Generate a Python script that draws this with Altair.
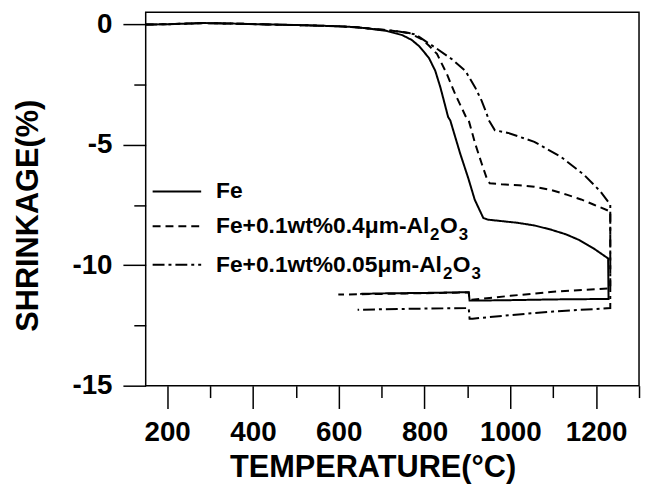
import altair as alt
import pandas as pd

# ---------------- data ----------------
series_names = ["Fe", "Fe+0.1wt%0.4μm-Al2O3", "Fe+0.1wt%0.05μm-Al2O3"]

# common low-temperature part (all three samples overlap)
common_T = [150, 200, 250, 286, 350, 440, 520, 594, 640, 671]
common_S = [-0.01, 0.0, 0.03, 0.05, 0.03, -0.01, -0.04, -0.08, -0.12, -0.18]

# Fe : heating then cooling
fe_heat_T = [710, 748, 770, 787, 810, 825, 837, 847, 855, 860, 883, 902, 917, 937, 948, 980,
             1017, 1056, 1094, 1130, 1160, 1194, 1228]
fe_heat_S = [-0.27, -0.45, -0.65, -0.9, -1.39, -1.93, -2.62, -3.3, -3.85, -3.99, -5.36, -6.39,
             -7.28, -8.04, -8.11, -8.17, -8.24, -8.35, -8.52, -8.72, -8.95, -9.3, -9.72]
fe_cool_T = [1229, 1100, 1000, 912, 905, 903, 800, 700, 650]
fe_cool_S = [-11.40, -11.42, -11.45, -11.47, -11.47, -11.12, -11.15, -11.17, -11.19]

# Fe + 0.1wt% 0.4 um Al2O3
a4_heat_T = [710, 740, 764, 794, 810, 829, 852, 871, 898, 903, 918, 933, 945, 952, 979,
             1020, 1056, 1095, 1133, 1165, 1195, 1233]
a4_heat_S = [-0.24, -0.3, -0.36, -0.63, -0.88, -1.23, -2.06, -2.88, -3.9, -3.99, -4.95, -5.77,
             -6.39, -6.6, -6.64, -6.68, -6.74, -6.88, -7.08, -7.27, -7.49, -7.77]
a4_cool_T = [1233, 1100, 1000, 910, 905, 903, 800, 700, 599]
a4_cool_S = [-10.96, -11.1, -11.27, -11.43, -11.43, -11.13, -11.16, -11.19, -11.22]

# Fe + 0.1wt% 0.05 um Al2O3
a05_heat_T = [710, 740, 779, 802, 825, 864, 895, 918, 933, 945, 950, 952, 964, 995, 1056,
              1118, 1172, 1210, 1233]
a05_heat_S = [-0.24, -0.3, -0.42, -0.7, -0.97, -1.45, -1.93, -2.62, -3.17, -3.72, -3.99,
              -4.05, -4.4, -4.51, -4.88, -5.5, -6.25, -6.94, -7.49]
a05_cool_T = [1233, 1100, 1000, 912, 905, 903, 800, 700, 644]
a05_cool_S = [-11.78, -11.92, -12.07, -12.22, -12.22, -11.78, -11.8, -11.83, -11.85]

x_major = [200, 400, 600, 800, 1000, 1200]
x_minor = [300, 500, 700, 900, 1100, 1300]
y_major = [0, -5, -10, -15]
y_minor = [-2.5, -7.5, -12.5]
x_domain = [150, 1300]
y_domain = [-15, 0.5]

# ---------------- build table ----------------
rows = []
def add(name, Ts, Ss):
    for T, S in zip(Ts, Ss):
        rows.append({"series": name, "T": T, "S": S, "idx": len(rows)})

add(series_names[0], common_T + fe_heat_T + fe_cool_T, common_S + fe_heat_S + fe_cool_S)
add(series_names[1], common_T + a4_heat_T + a4_cool_T, common_S + a4_heat_S + a4_cool_S)
add(series_names[2], common_T + a05_heat_T + a05_cool_T, common_S + a05_heat_S + a05_cool_S)
df = pd.DataFrame(rows)

# ---------------- layout ----------------
W, H = 498, 377
PAD_L, PAD_T = 139, 2
FONT = "Liberation Sans"
dash_range = [[1, 0], [8, 5], [12, 4, 3, 4]]

def px_to_T(px):  # window px -> data
    return x_domain[0] + (px - 8 - PAD_L) * (x_domain[1] - x_domain[0]) / W

def py_to_S(py):
    return y_domain[1] - (py - 8 - PAD_T) * (y_domain[1] - y_domain[0]) / H

# legend (manual, inside plot)
leg_rows_py = [191, 226, 265]
leg_lines = []
for name, py in zip(series_names, leg_rows_py):
    for px in (154, 203):
        leg_lines.append({"series": name, "T": px_to_T(px), "S": py_to_S(py), "idx": px})
leg_lines = pd.DataFrame(leg_lines)

leg_text = []
def piece(txt, px, py, fs):
    leg_text.append({"txt": txt, "T": px_to_T(px), "S": py_to_S(py), "fs": fs})
piece("Fe", 218, leg_rows_py[0], 23)
piece("Fe+0.1wt%0.4μm-Al", 218, leg_rows_py[1], 23)
piece("2", 434, leg_rows_py[1] + 9, 17)
piece("O", 444, leg_rows_py[1], 23)
piece("3", 463, leg_rows_py[1] + 9, 17)
piece("Fe+0.1wt%0.05μm-Al", 218, leg_rows_py[2], 23)
piece("2", 447, leg_rows_py[2] + 9, 17)
piece("O", 457, leg_rows_py[2], 23)
piece("3", 476, leg_rows_py[2] + 9, 17)
leg_text = pd.DataFrame(leg_text)

xs = alt.Scale(domain=x_domain, nice=False, zero=False)
ys = alt.Scale(domain=y_domain, nice=False, zero=False)
dash_scale = alt.Scale(domain=series_names, range=dash_range)

lbl = dict(labelFont=FONT, labelFontSize=28, labelFontWeight="bold", labelColor="black",
           titleFont=FONT, titleFontSize=31, titleFontWeight="bold", titleColor="black",
           tickColor="black", tickWidth=1.5, domain=False, grid=False)

x_axis = alt.Axis(values=x_major, tickSize=23, labelPadding=10, orient="bottom",
                  labelExpr="'' + datum.value",
                  title="TEMPERATURE(°C)", titleX=229, titleY=83, titleBaseline="middle",
                  titleAlign="center", **lbl)
y_axis = alt.Axis(values=y_major, tickSize=23, labelPadding=11, orient="left",
                  labelExpr="'' + datum.value",
                  title="SHRINKAGE(%)", titleX=-118, titleY=205, titleAngle=270,
                  titleBaseline="middle", titleAlign="center", **lbl)
x_axis_minor = alt.Axis(values=x_minor, tickSize=12, labels=False, orient="bottom",
                        title=None, tickColor="black", tickWidth=1.5, domain=False, grid=False)
y_axis_minor = alt.Axis(values=y_minor, tickSize=12, labels=False, orient="left",
                        title=None, tickColor="black", tickWidth=1.5, domain=False, grid=False)

curves = alt.Chart(df).mark_line(color="black", strokeWidth=2).encode(
    x=alt.X("T:Q", scale=xs, axis=x_axis),
    y=alt.Y("S:Q", scale=ys, axis=y_axis),
    detail="series:N",
    order="idx:Q",
    strokeDash=alt.StrokeDash("series:N", scale=dash_scale, legend=None),
)

minor = alt.Chart(df).mark_point(opacity=0).encode(
    x=alt.X("T:Q", scale=xs, axis=x_axis_minor),
    y=alt.Y("S:Q", scale=ys, axis=y_axis_minor),
)

legend_lines = alt.Chart(leg_lines).mark_line(color="black", strokeWidth=2).encode(
    x=alt.X("T:Q", scale=xs, axis=None),
    y=alt.Y("S:Q", scale=ys, axis=None),
    detail="series:N",
    order="idx:Q",
    strokeDash=alt.StrokeDash("series:N", scale=dash_scale, legend=None),
)

legend_text = alt.Chart(leg_text).mark_text(align="left", baseline="middle", font=FONT,
                                            fontWeight="bold", color="black").encode(
    x=alt.X("T:Q", scale=xs, axis=None),
    y=alt.Y("S:Q", scale=ys, axis=None),
    text="txt:N",
    size=alt.Size("fs:Q", scale=None, legend=None),
)

chart = alt.layer(curves, minor, legend_lines, legend_text).resolve_axis(
    x="independent", y="independent"
).properties(
    width=W, height=H,
    autosize=alt.AutoSizeParams(type="none"),
    padding={"left": PAD_L, "top": PAD_T, "right": 2, "bottom": 99},
    background="white",
).configure_view(stroke="black", strokeWidth=1.5)

chart.save("out.html", embed_options={"renderer": "svg", "actions": False})
